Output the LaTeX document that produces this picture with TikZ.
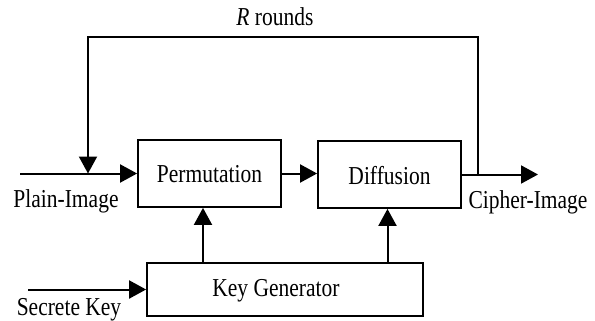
\documentclass[tikz,border=0pt]{standalone}
\usepackage{fontspec}
\setmainfont{Liberation Serif}
\usetikzlibrary{arrows.meta,calc}
\newcommand{\lbl}[1]{\scalebox{1}[1.2]{\fontsize{21.5}{24}\selectfont #1}}
\tikzset{
  blk/.style={draw, line width=1.8pt, minimum width=#1, inner sep=0pt},
  arr/.style={line width=2pt, -{Triangle[length=17pt,width=18pt]}},
  txt/.style={anchor=base, inner sep=0pt}
}
\begin{document}
\begin{tikzpicture}[x=1pt,y=-1pt]
\useasboundingbox (0,0) rectangle (595,321);
% blocks
\node[blk=143pt, minimum height=67pt] (perm) at (209.5,173.5) {};
\node[blk=143pt, minimum height=67pt] (diff) at (389.5,174.5) {};
\node[blk=276pt, minimum height=53pt] (kg) at (285,289.5) {};
% block texts
\node[txt] (permt) at (209.5,182.3) {\lbl{Permutation}};
\node[txt] (difft) at (389.5,184) {\lbl{Diffusion}};
\node[txt] (kgt) at (276,296.7) {\lbl{Key Generator}};
% labels
\node[txt] (plain) at (66,207.5) {\lbl{Plain-Image}};
\node[txt] (ciph) at (528,208) {\lbl{Cipher-Image}};
\node[txt] (skey) at (69,315) {\lbl{Secrete Key}};
\node[txt] (rr) at (275,25.5) {\lbl{\textit{R} rounds}};
% coordinates
\coordinate (pin) at (20,173.5);
\coordinate (cout) at (538,174.5);
\coordinate (fbR) at (478,174.5);
\coordinate (fbRt) at (478,37);
\coordinate (fbLt) at (88,37);
\coordinate (fbL) at (88,173.5);
\coordinate (skin) at (28,289.5);
\coordinate (k1) at (203,0);
\coordinate (k2) at (387.5,0);
% connectors
\draw[arr] (pin) -- (perm.west);
\draw[arr] (perm.east) -- (diff.west |- perm.east);
\draw[arr] (diff.east) -- (cout);
\draw[arr] (fbR) -- (fbRt) -- (fbLt) -- (fbL);
\draw[arr] (skin) -- (kg.west);
\draw[arr] (kg.north -| k1) -- (perm.south -| k1);
\draw[arr] (kg.north -| k2) -- (diff.south -| k2);
\end{tikzpicture}
\end{document}
